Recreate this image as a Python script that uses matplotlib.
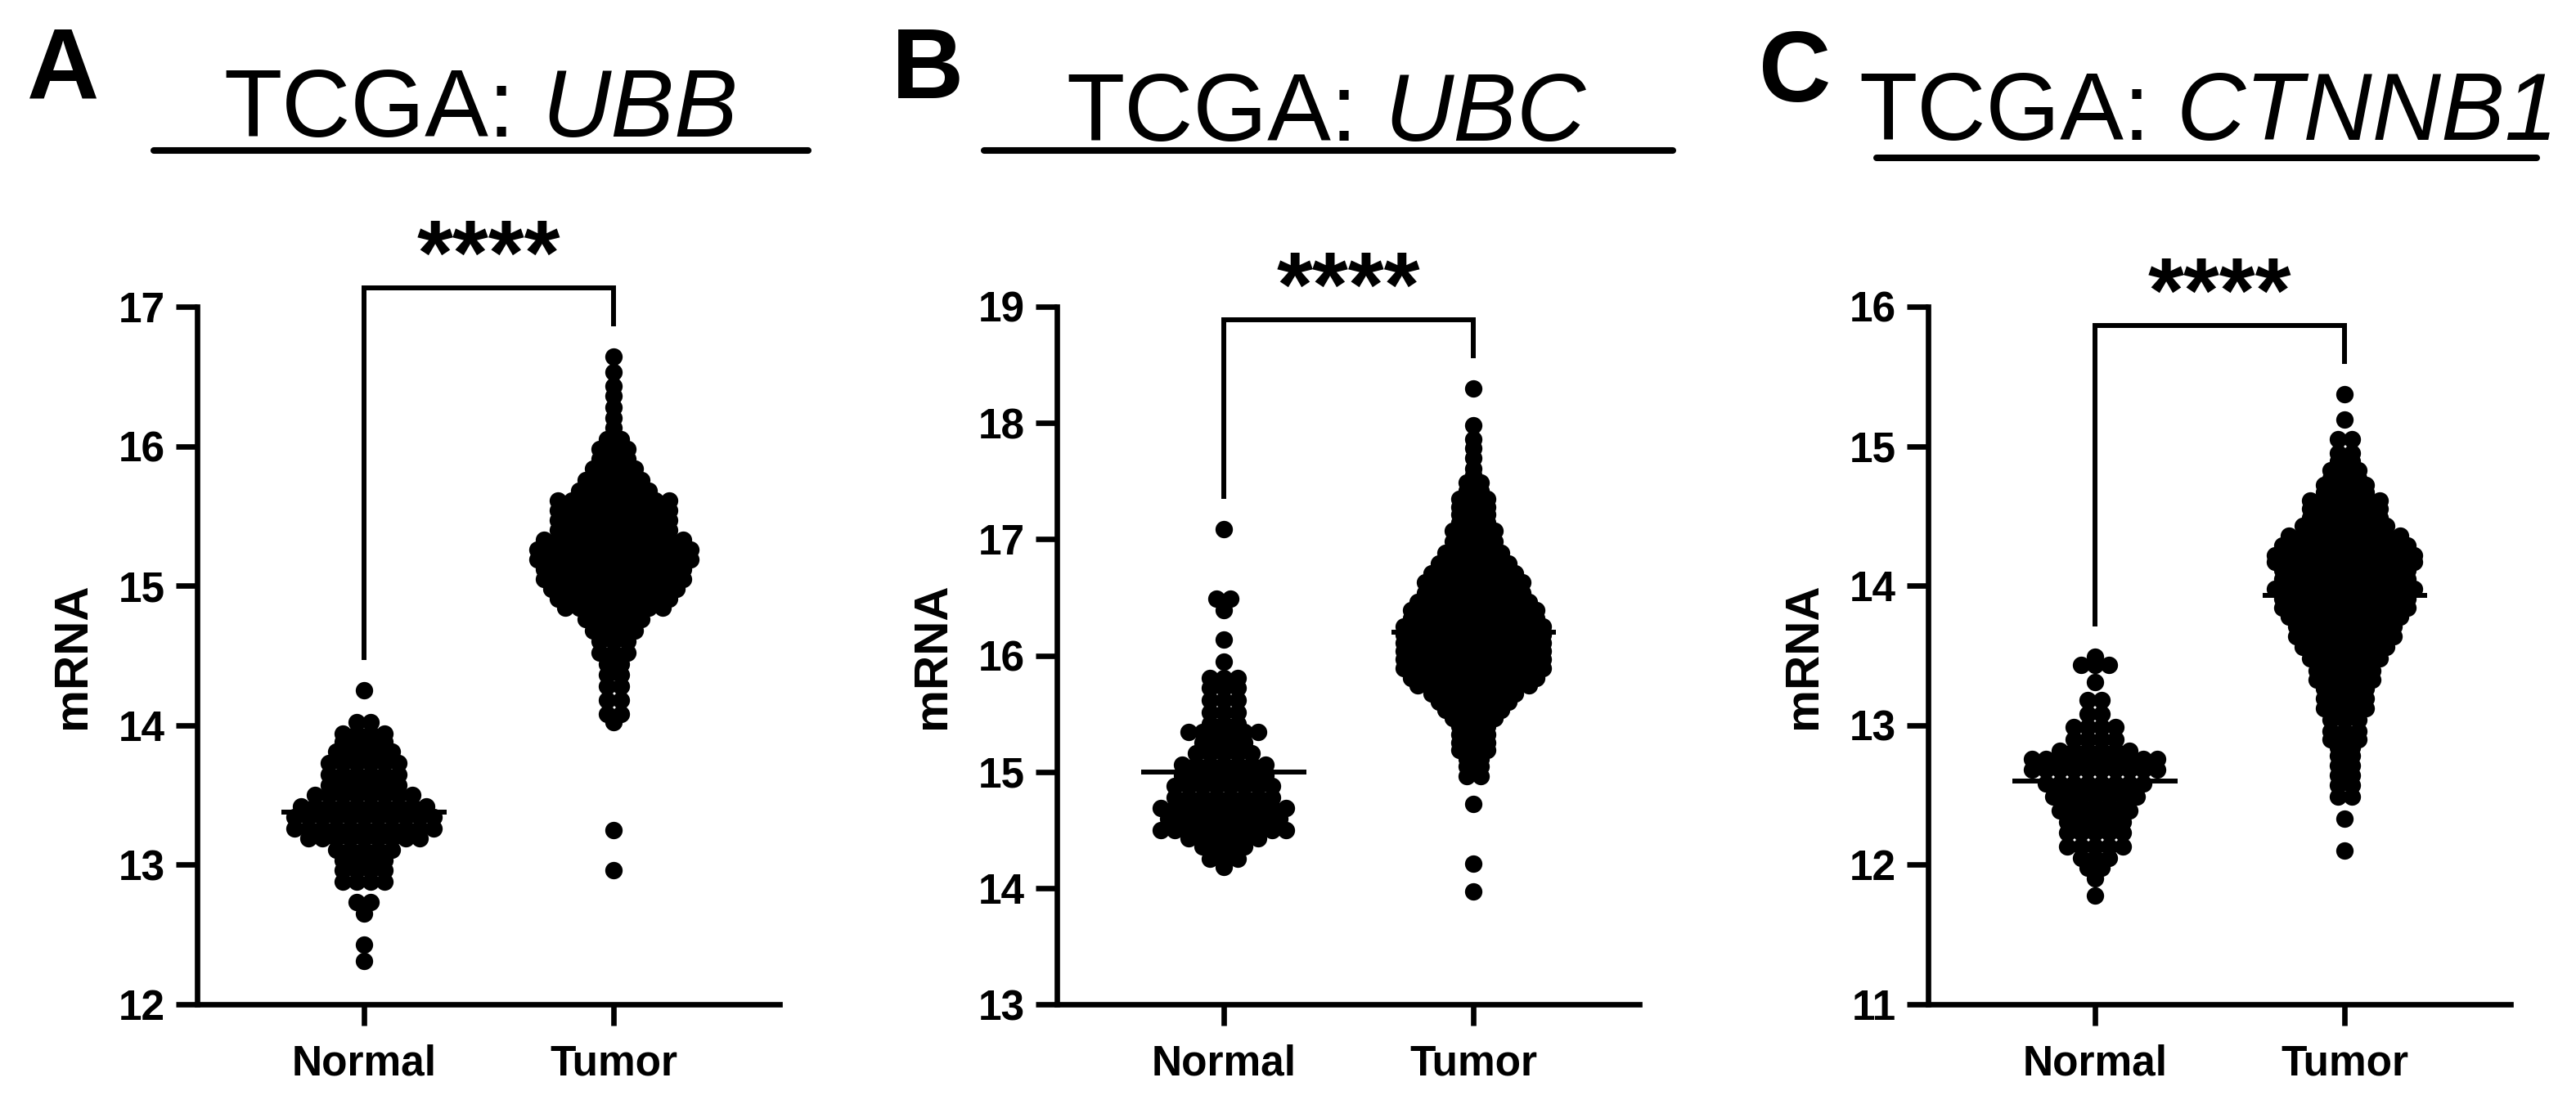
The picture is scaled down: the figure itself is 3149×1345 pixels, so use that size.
import numpy as np
import matplotlib.pyplot as plt
from matplotlib.lines import Line2D

plt.rcParams['font.family'] = ['Liberation Sans', 'DejaVu Sans']

groups = ['Normal', 'Tumor']
genes = ['UBB', 'UBC', 'CTNNB1']
letters = ['A', 'B', 'C']
y_ranges = [(12, 17), (13, 19), (11, 16)]

# dot plots: level of the row, dots in that row
ubb_normal_rows = [12.31, 12.43, 12.65, 12.73, 12.88, 12.96, 13.03, 13.11, 13.19, 13.26, 13.34,
                   13.42, 13.50, 13.57, 13.65, 13.73, 13.81, 13.88, 13.94, 14.02, 14.25]
ubb_normal_counts = [1, 1, 1, 2, 4, 4, 4, 5, 9, 11, 11, 10, 8, 6, 6, 6, 5, 4, 4, 2, 1]
ubb_tumor_rows = [12.96, 13.25, 14.02, 14.08, 14.18, 14.28, 14.36, 14.44, 14.52, 14.60, 14.68,
                  14.76, 14.84, 14.91, 14.98, 15.05, 15.12, 15.19, 15.26, 15.33, 15.40, 15.47,
                  15.54, 15.61, 15.68, 15.76, 15.84, 15.91, 15.98, 16.05, 16.13, 16.20, 16.28,
                  16.36, 16.43, 16.53, 16.64]
ubb_tumor_counts = [1, 1, 1, 2, 2, 2, 2, 2, 3, 3, 4, 5, 8, 9, 10, 11, 11, 12, 12, 11, 9, 9,
                    9, 9, 6, 5, 4, 3, 3, 2, 1, 1, 1, 1, 1, 1, 1]

ubc_normal_rows = [14.18, 14.25, 14.36, 14.43, 14.50, 14.60, 14.69, 14.78, 14.88, 14.97, 15.06,
                   15.16, 15.25, 15.34, 15.41, 15.51, 15.62, 15.72, 15.81, 15.95, 16.14, 16.39,
                   16.49, 17.09]
ubc_normal_counts = [1, 3, 4, 6, 10, 9, 10, 8, 8, 7, 7, 5, 4, 6, 3, 3, 3, 3, 3, 1, 1, 1, 2, 1]
ubc_tumor_rows = [13.97, 14.21, 14.72, 14.96, 15.05, 15.11, 15.19, 15.25, 15.32, 15.39, 15.46,
                  15.53, 15.60, 15.67, 15.74, 15.81, 15.89, 15.97, 16.04, 16.11, 16.18, 16.25,
                  16.32, 16.39, 16.46, 16.54, 16.63, 16.71, 16.79, 16.88, 16.98, 17.07, 17.14,
                  17.21, 17.28, 17.35, 17.42, 17.49, 17.55, 17.61, 17.70, 17.78, 17.86, 17.98,
                  18.30]
ubc_tumor_counts = [1, 1, 1, 2, 2, 2, 3, 3, 3, 3, 4, 5, 6, 7, 9, 10, 11, 11, 11, 11, 11, 11,
                    10, 10, 9, 8, 8, 7, 6, 5, 4, 4, 3, 3, 3, 3, 2, 2, 1, 1, 1, 1, 1, 1, 1]

ctnnb1_normal_rows = [11.78, 11.90, 11.98, 12.05, 12.13, 12.23, 12.31, 12.39, 12.49, 12.58,
                      12.68, 12.76, 12.82, 12.90, 12.99, 13.08, 13.18, 13.31, 13.43, 13.49]
ctnnb1_normal_counts = [1, 1, 2, 3, 5, 5, 5, 6, 7, 8, 10, 10, 6, 4, 4, 2, 2, 1, 3, 1]
ctnnb1_tumor_rows = [12.10, 12.33, 12.49, 12.57, 12.64, 12.71, 12.78, 12.84, 12.90, 12.96, 13.04,
                     13.12, 13.19, 13.26, 13.33, 13.39, 13.48, 13.56, 13.64, 13.71, 13.78, 13.84,
                     13.91, 13.98, 14.05, 14.11, 14.17, 14.22, 14.29, 14.36, 14.43, 14.49, 14.55,
                     14.61, 14.67, 14.72, 14.77, 14.83, 14.89, 14.95, 15.05, 15.19, 15.37]
ctnnb1_tumor_counts = [1, 1, 2, 2, 2, 2, 2, 2, 3, 3, 3, 4, 4, 4, 5, 5, 6, 7, 8, 8, 9, 10,
                       10, 11, 10, 10, 11, 11, 10, 9, 7, 6, 6, 6, 4, 4, 3, 3, 2, 2, 2, 1, 1]

# centre lines of each group
medians = [(13.38, 15.22), (15.00, 16.20), (12.60, 13.93)]

panels = [
    [(ubb_normal_rows, ubb_normal_counts), (ubb_tumor_rows, ubb_tumor_counts)],
    [(ubc_normal_rows, ubc_normal_counts), (ubc_tumor_rows, ubc_tumor_counts)],
    [(ctnnb1_normal_rows, ctnnb1_normal_counts), (ctnnb1_tumor_rows, ctnnb1_tumor_counts)],
]

W, H = 3149, 1345
fig = plt.figure(figsize=(W / 100, H / 100), dpi=100)
renderer = fig.canvas.get_renderer()

ax_left = [241, 1292, 2357]
ax_w, ax_top, ax_bottom = 712, 375, 1228
title_x = [588, 1621, 2700]
title_base = [167, 172, 171]
line_y = [184, 184, 193]
line_x = [(188, 988), (1203, 2045), (2294, 3101)]
letter_x = [33, 1090, 2150]
letter_base = [120, 120, 124]

lw = 4.8
title_size = 84
dot_step = 0.0556  # horizontal spacing of dots within a row

for k in range(3):
    lo, hi = y_ranges[k]
    ax = fig.add_axes([ax_left[k] / W, 1 - ax_bottom / H, ax_w / W, (ax_bottom - ax_top) / H])
    ax.set_xlim(-0.667, 1.663)
    ax.set_ylim(lo, hi)
    for s in ['top', 'right']:
        ax.spines[s].set_visible(False)
    for s in ['left', 'bottom']:
        ax.spines[s].set_linewidth(lw)

    ax.set_xticks([0, 1])
    ax.set_xticklabels(groups, fontsize=37, fontweight='bold')
    ax.set_yticks(range(lo, hi + 1))
    ax.set_yticklabels([str(v) for v in range(lo, hi + 1)], fontsize=37, fontweight='bold')
    ax.tick_params(axis='y', width=lw, length=19, pad=9)
    ax.tick_params(axis='x', width=lw, length=19, pad=16)
    ax.set_ylabel('mRNA', fontsize=42, fontweight='bold')
    ax.yaxis.set_label_coords(-0.175, 0.5)

    tops = []
    for i, (rows, counts) in enumerate(panels[k]):
        xs, ys = [], []
        for v, n in zip(rows, counts):
            off = (np.arange(n) - (n - 1) / 2) * dot_step
            xs.extend(i + off)
            ys.extend([v] * n)
        ax.scatter(xs, ys, s=235, color='black', linewidths=0, zorder=3, clip_on=False)
        ax.plot([i - 0.33, i + 0.33], [medians[k][i], medians[k][i]], color='black',
                lw=4.3, zorder=4, solid_capstyle='butt')
        tops.append(max(rows))

    ppu = (ax_bottom - ax_top) / (hi - lo)
    leg_n = tops[0] + 40 / ppu
    leg_t = tops[1] + 40 / ppu
    top = max(leg_n, leg_t) + 44 / ppu
    ax.plot([0, 0, 1, 1], [leg_n, top, top, leg_t], color='black', lw=4.3,
            clip_on=False, solid_joinstyle='miter')
    ax.annotate('****', xy=(0.5, top), xytext=(0, 3), textcoords='offset points',
                ha='center', va='baseline', fontsize=81, fontweight='bold',
                annotation_clip=False)

    # title: plain "TCGA:" then the gene name in italics, centred as one line
    yb = 1 - title_base[k] / H
    t1 = fig.text(0, yb, 'TCGA:', ha='left', va='baseline', fontsize=title_size)
    t2 = fig.text(0, yb, genes[k], ha='left', va='baseline', fontsize=title_size,
                  style='italic')
    w1 = t1.get_window_extent(renderer).width
    w2 = t2.get_window_extent(renderer).width
    gap = 0.278 * title_size * 100 / 72
    x0 = title_x[k] - (w1 + gap + w2) / 2
    t1.set_x(x0 / W)
    t2.set_x((x0 + w1 + gap) / W)

    fig.add_artist(Line2D([line_x[k][0] / W, line_x[k][1] / W],
                          [1 - line_y[k] / H, 1 - line_y[k] / H],
                          color='black', lw=5.8, solid_capstyle='round'))
    fig.text(letter_x[k] / W, 1 - letter_base[k] / H, letters[k], ha='left', va='baseline',
             fontsize=88, fontweight='bold')

fig.savefig('out.png', dpi=100, facecolor='white')
